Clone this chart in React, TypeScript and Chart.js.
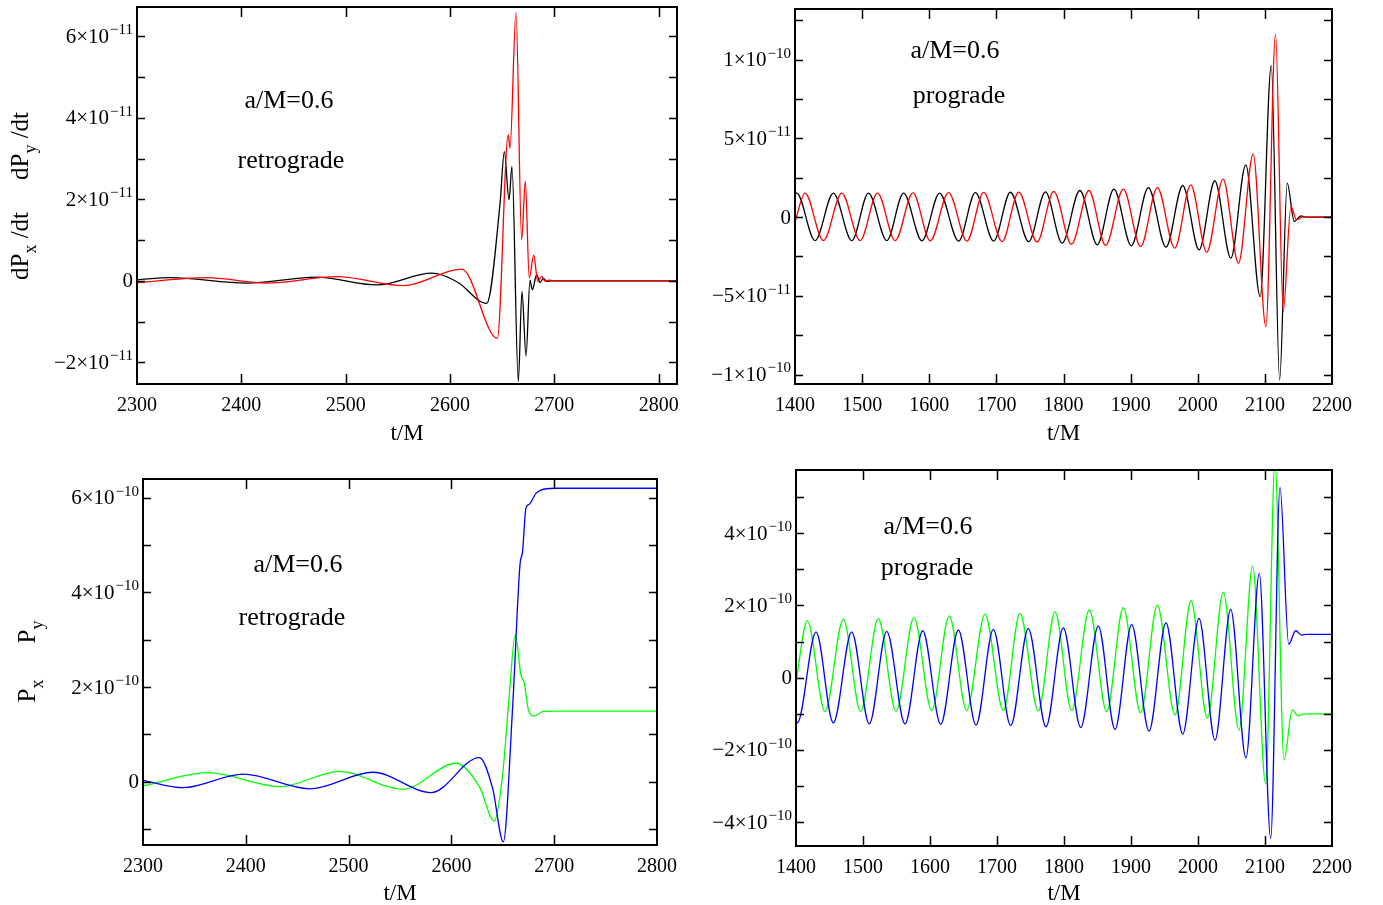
import { useEffect, useRef } from 'react';
import { Chart, registerables } from 'chart.js';

Chart.register(...registerables);

const FONT = '"Liberation Serif", "Times New Roman", serif';

type Pt = [number, number];

// ---------- Panel A: retrograde dP/dt (values in units of 1e-11) ----------
const A_X_TICKS = [2300, 2400, 2500, 2600, 2700, 2800];
const A_Y_TICKS = [-2, 0, 2, 4, 6];
const A_Y_LABELS = ['−2×10^−11', '0', '2×10^−11', '4×10^−11', '6×10^−11'];
const A_Y_MINOR = [-2, -1, 0, 1, 2, 3, 4, 5, 6];
const A_RED: Pt[] = [
  [2300, -0.04], [2367, 0.08], [2424.5, -0.057], [2491.7, 0.106], [2555.6, -0.115],
  [2611.2, 0.29], [2645.4, -1.41], [2655.9, 3.58], [2657.5, 3.26], [2663.3, 6.58],
  [2668.7, 1.01], [2672.2, 2.44], [2676, 0.07], [2680.3, 0.64], [2684.1, -0.02],
  [2687.9, 0.11], [2691.1, -0.01], [2695, 0.02], [2700, 0], [2817, 0],
];
const A_BLACK: Pt[] = [
  [2300, 0.03], [2331.8, 0.08], [2405.4, -0.057], [2472.5, 0.09], [2530, -0.098],
  [2582.7, 0.19], [2606.7, -0.02], [2635.2, -0.55], [2648, 1.9], [2652.1, 3.17],
  [2656.6, 1.99], [2659.4, 2.8], [2665.5, -2.47], [2669, -0.26], [2672.9, -1.84],
  [2676.7, 0.02], [2678.9, -0.22], [2683.1, 0.15], [2686.3, -0.04], [2689.5, 0.06],
  [2693, -0.01], [2698, 0], [2817, 0],
];

// ---------- Panel B: prograde dP/dt (values in units of 1e-10) ----------
const B_X_TICKS = [1400, 1500, 1600, 1700, 1800, 1900, 2000, 2100, 2200];
const B_Y_TICKS = [-1, -0.5, 0, 0.5, 1];
const B_Y_LABELS = ['−1×10^−10', '−5×10^−11', '0', '5×10^−11', '1×10^−10'];
const B_Y_MINOR = [-1, -0.75, -0.5, -0.25, 0, 0.25, 0.5, 0.75, 1, 1.25];
const B_RED: Pt[] = [
  [1400, -0.03], [1414.9, 0.153], [1442.3, -0.149], [1469.7, 0.153], [1497, -0.149],
  [1522.9, 0.153], [1549.3, -0.149], [1575.6, 0.154], [1601.5, -0.15], [1628.8, 0.155],
  [1656.2, -0.152], [1681.1, 0.157], [1708.5, -0.155], [1733.3, 0.159], [1760.7, -0.158],
  [1785.5, 0.163], [1811.9, -0.172], [1837.8, 0.169], [1862.7, -0.18], [1889.1, 0.178],
  [1914.9, -0.187], [1939.8, 0.188], [1965.7, -0.197], [1989.6, 0.205], [2013.4, -0.223],
  [2037.8, 0.241], [2060.7, -0.293], [2082.6, 0.4], [2101.5, -0.696], [2115.9, 1.163],
  [2127.3, -0.596], [2138.8, 0.067], [2147.3, -0.017], [2156, 0], [2200, 0],
];
const B_BLACK: Pt[] = [
  [1400, 0.15], [1402.5, 0.153], [1429.9, -0.149], [1457.2, 0.153], [1484.6, -0.149],
  [1509.5, 0.153], [1536.8, -0.149], [1561.7, 0.153], [1589.1, -0.15], [1615.4, 0.153],
  [1643.8, -0.152], [1668.7, 0.156], [1696, -0.152], [1720.9, 0.158], [1748.2, -0.156],
  [1773.1, 0.16], [1798, -0.165], [1824.4, 0.169], [1850.3, -0.176], [1875.1, 0.178],
  [1901, -0.182], [1926.4, 0.188], [1952.7, -0.191], [1977.6, 0.201], [2002, -0.208],
  [2025.4, 0.231], [2049.3, -0.261], [2071.6, 0.332], [2093, -0.505], [2109.5, 0.962],
  [2122, -1.034], [2133.3, 0.216], [2143.8, -0.028], [2153.7, 0.008], [2162, 0], [2200, 0],
];

// ---------- Panel C: retrograde P (values in units of 1e-10) ----------
const C_X_TICKS = [2300, 2400, 2500, 2600, 2700, 2800];
const C_Y_TICKS = [0, 2, 4, 6];
const C_Y_LABELS = ['0', '2×10^−10', '4×10^−10', '6×10^−10'];
const C_Y_MINOR = [-1, 0, 1, 2, 3, 4, 5, 6];
const C_BLUE: Pt[] = [
  [2300, 0.03], [2339.1, -0.127], [2397.4, 0.16], [2462.1, -0.15], [2523.6, 0.2],
  [2580.3, -0.23], [2627.2, 0.51], [2640.1, -0.14], [2650.5, -1.27], [2659.5, 1.55],
  [2666.7, 4.58], [2669.2, 4.86], [2672.5, 5.78], [2675.7, 5.86], [2682.2, 6.09],
  [2687.1, 6.16], [2700, 6.2], [2800, 6.2],
];
const C_GREEN: Pt[] = [
  [2300, -0.09], [2363.4, 0.19], [2433, -0.105], [2491.3, 0.22], [2552.7, -0.16],
  [2604.6, 0.39], [2627.2, -0.105], [2641.7, -0.83], [2649.8, 0.14], [2656.3, 1.83],
  [2662.1, 3.1], [2667.7, 2.25], [2670.9, 2.08], [2675, 1.51], [2680.6, 1.39],
  [2688.7, 1.48], [2700, 1.49], [2800, 1.49],
];

// ---------- Panel D: prograde P (values in units of 1e-10) ----------
const D_X_TICKS = [1400, 1500, 1600, 1700, 1800, 1900, 2000, 2100, 2200];
const D_Y_TICKS = [-4, -2, 0, 2, 4];
const D_Y_LABELS = ['−4×10^−10', '−2×10^−10', '0', '2×10^−10', '4×10^−10'];
const D_Y_MINOR = [-4, -3, -2, -1, 0, 1, 2, 3, 4, 5];
const D_BLUE: Pt[] = [
  [1400, -1.2], [1402, -1.25], [1429.9, 1.27], [1455.7, -1.25], [1483.1, 1.27],
  [1509.4, -1.28], [1535.4, 1.28], [1562.7, -1.28], [1589.1, 1.3], [1616, -1.29],
  [1642.3, 1.32], [1668.7, -1.31], [1694.5, 1.34], [1720.4, -1.33], [1746.7, 1.36],
  [1773.1, -1.36], [1799, 1.38], [1824.9, -1.38], [1851.2, 1.43], [1876.1, -1.43],
  [1901, 1.47], [1926.9, -1.48], [1952.2, 1.52], [1977.2, -1.56], [2001.5, 1.64],
  [2025.4, -1.73], [2048.8, 1.89], [2071.6, -2.22], [2091.5, 2.89], [2108.5, -4.45],
  [2122.4, 5.27], [2135.4, 0.93], [2145.8, 1.3], [2154.8, 1.18], [2162, 1.2], [2200, 1.2],
];
const D_GREEN: Pt[] = [
  [1400, -0.11], [1416.9, 1.58], [1443.3, -0.94], [1470.6, 1.62], [1496.5, -0.94],
  [1522.9, 1.64], [1549.3, -0.93], [1576.1, 1.67], [1602.5, -0.91], [1628.8, 1.71],
  [1654.7, -0.91], [1682.1, 1.76], [1709.4, -0.91], [1734.3, 1.78], [1761.6, -0.92],
  [1786.6, 1.82], [1811.5, -0.91], [1837.8, 1.875], [1863.7, -0.94], [1888.5, 1.94],
  [1914.4, -0.97], [1939.3, 2.01], [1965.7, -1.03], [1989.6, 2.13], [2013.9, -1.12],
  [2037.8, 2.36], [2061.2, -1.45], [2081.6, 3.09], [2101, -2.94], [2114.9, 5.95],
  [2128.4, -2.28], [2140.8, -0.89], [2149.7, -1.06], [2157.2, -1.01], [2165, -1.0], [2200, -1.0],
];

type SubPart = [string, boolean];
interface Note { text: string; dx: number; dy: number }
interface YTitle { parts: SubPart[]; x: number; y: number }
interface PanelCfg {
  left: number; top: number; width: number; height: number;
  yAxisW: number; padTop: number; padRight: number; xAxisH: number; titlePad: number;
  xMin: number; xMax: number; yMin: number; yMax: number;
  xTicks: number[]; yTicks: number[]; yLabels: string[]; yMinor: number[];
  series: { pts: Pt[]; color: string }[];
  notes: Note[];
  yTitles: YTitle[];
}

const PANELS: PanelCfg[] = [
  {
    left: 0, top: 0, width: 690, height: 450,
    yAxisW: 137, padTop: 7, padRight: 13, xAxisH: 66, titlePad: 2,
    xMin: 2300, xMax: 2817.6, yMin: -2.53, yMax: 6.72,
    xTicks: A_X_TICKS, yTicks: A_Y_TICKS, yLabels: A_Y_LABELS, yMinor: A_Y_MINOR,
    series: [{ pts: A_RED, color: '#ff0000' }, { pts: A_BLACK, color: '#000000' }],
    notes: [{ text: 'a/M=0.6', dx: 152, dy: 94 }, { text: 'retrograde', dx: 154, dy: 154 }],
    yTitles: [
      { parts: [['dP', false], ['y', true], [' /dt', false]], x: 28, y: 146 },
      { parts: [['dP', false], ['x', true], [' /dt', false]], x: 28, y: 246 },
    ],
  },
  {
    left: 695, top: 0, width: 688, height: 450,
    yAxisW: 100, padTop: 9, padRight: 51, xAxisH: 66, titlePad: 2,
    xMin: 1400, xMax: 2200, yMin: -1.06, yMax: 1.322,
    xTicks: B_X_TICKS, yTicks: B_Y_TICKS, yLabels: B_Y_LABELS, yMinor: B_Y_MINOR,
    series: [{ pts: B_RED, color: '#ff0000' }, { pts: B_BLACK, color: '#000000' }],
    notes: [{ text: 'a/M=0.6', dx: 160, dy: 42 }, { text: 'prograde', dx: 164, dy: 87 }],
    yTitles: [],
  },
  {
    left: 0, top: 455, width: 690, height: 450,
    yAxisW: 143, padTop: 24, padRight: 33, xAxisH: 60, titlePad: -3,
    xMin: 2300, xMax: 2800, yMin: -1.337, yMax: 6.395,
    xTicks: C_X_TICKS, yTicks: C_Y_TICKS, yLabels: C_Y_LABELS, yMinor: C_Y_MINOR,
    series: [{ pts: C_BLUE, color: '#0000ff' }, { pts: C_GREEN, color: '#00ff00' }],
    notes: [{ text: 'a/M=0.6', dx: 155, dy: 86 }, { text: 'retrograde', dx: 149, dy: 139 }],
    yTitles: [
      { parts: [['P', false], ['y', true]], x: 35, y: 177 },
      { parts: [['P', false], ['x', true]], x: 35, y: 236 },
    ],
  },
  {
    left: 695, top: 455, width: 688, height: 450,
    yAxisW: 101, padTop: 15, padRight: 51, xAxisH: 59, titlePad: -3,
    xMin: 1400, xMax: 2200, yMin: -4.66, yMax: 5.75,
    xTicks: D_X_TICKS, yTicks: D_Y_TICKS, yLabels: D_Y_LABELS, yMinor: D_Y_MINOR,
    series: [{ pts: D_BLUE, color: '#0000ff' }, { pts: D_GREEN, color: '#00ff00' }],
    notes: [{ text: 'a/M=0.6', dx: 132, dy: 57 }, { text: 'prograde', dx: 131, dy: 98 }],
    yTitles: [],
  },
];

function drawSubText(ctx: CanvasRenderingContext2D, parts: SubPart[], baseX: number, centerY: number, size: number) {
  const subSize = Math.round(size * 0.72);
  const widths = parts.map(([t, sub]) => {
    ctx.font = `${sub ? subSize : size}px ${FONT}`;
    return ctx.measureText(t).width;
  });
  const total = widths.reduce((a, b) => a + b, 0);
  ctx.save();
  ctx.translate(baseX, centerY);
  ctx.rotate(-Math.PI / 2);
  ctx.fillStyle = '#000';
  ctx.textAlign = 'left';
  ctx.textBaseline = 'alphabetic';
  let u = -total / 2;
  parts.forEach(([t, sub], i) => {
    ctx.font = `${sub ? subSize : size}px ${FONT}`;
    ctx.fillText(t, u, sub ? size * 0.32 : 0);
    u += widths[i];
  });
  ctx.restore();
}

function Panel({ cfg }: { cfg: PanelCfg }) {
  const ref = useRef<HTMLCanvasElement | null>(null);
  useEffect(() => {
    const canvas = ref.current;
    if (!canvas) return;
    const framePlugin = {
      id: 'frame',
      afterDraw(chart: any) {
        const { ctx, chartArea: a, scales } = chart;
        ctx.save();
        ctx.strokeStyle = '#000';
        ctx.lineWidth = 1.5;
        ctx.beginPath();
        cfg.xTicks.forEach((v) => {
          const px = Math.round(scales.x.getPixelForValue(v)) + 0.5;
          if (px <= a.left + 1 || px >= a.right - 1) return;
          ctx.moveTo(px, a.bottom);
          ctx.lineTo(px, a.bottom - 10);
          ctx.moveTo(px, a.top);
          ctx.lineTo(px, a.top + 10);
        });
        cfg.yMinor.forEach((v) => {
          const py = Math.round(scales.y.getPixelForValue(v)) + 0.5;
          if (py <= a.top + 1 || py >= a.bottom - 1) return;
          ctx.moveTo(a.left, py);
          ctx.lineTo(a.left + 8, py);
          ctx.moveTo(a.right, py);
          ctx.lineTo(a.right - 8, py);
        });
        ctx.stroke();
        ctx.lineWidth = 2;
        ctx.strokeRect(a.left, a.top, a.right - a.left, a.bottom - a.top);
        ctx.fillStyle = '#000';

        // y tick labels with real superscripts
        ctx.textAlign = 'left';
        ctx.textBaseline = 'middle';
        cfg.yTicks.forEach((v, i) => {
          const py = scales.y.getPixelForValue(v) + 1;
          const [main, sup] = cfg.yLabels[i].split('^');
          ctx.font = `21px ${FONT}`;
          const wm = ctx.measureText(main).width;
          ctx.font = `15px ${FONT}`;
          const ws = sup ? ctx.measureText(sup).width + 1 : 0;
          const x0 = a.left - 4 - wm - ws;
          ctx.font = `21px ${FONT}`;
          ctx.fillText(main, x0, py);
          if (sup) {
            ctx.font = `15px ${FONT}`;
            ctx.fillText(sup, x0 + wm + 1, py - 7);
          }
        });

        ctx.textAlign = 'center';
        ctx.textBaseline = 'middle';
        ctx.font = `26px ${FONT}`;
        cfg.notes.forEach((n) => ctx.fillText(n.text, a.left + n.dx, a.top + n.dy));
        cfg.yTitles.forEach((t) => drawSubText(ctx, t.parts, t.x, t.y, 25));
        ctx.restore();
      },
    };
    const chart = new Chart(canvas, {
      type: 'line',
      data: {
        datasets: cfg.series.map((s) => ({
          data: s.pts.map(([x, y]) => ({ x, y })),
          borderColor: s.color,
          borderWidth: 1.3,
          pointRadius: 0,
          fill: false,
          cubicInterpolationMode: 'monotone' as const,
        })),
      },
      options: {
        animation: false,
        responsive: false,
        maintainAspectRatio: false,
        events: [],
        layout: { padding: { top: cfg.padTop, right: cfg.padRight, left: 0, bottom: 0 } },
        plugins: { legend: { display: false }, tooltip: { enabled: false } },
        scales: {
          x: {
            type: 'linear',
            min: cfg.xMin,
            max: cfg.xMax,
            afterBuildTicks: (scale: any) => {
              scale.ticks = cfg.xTicks.map((v) => ({ value: v }));
            },
            afterFit: (scale: any) => {
              scale.height = cfg.xAxisH;
              scale.paddingLeft = 0;
              scale.paddingRight = 0;
            },
            grid: { display: false, drawTicks: false },
            border: { display: false },
            ticks: {
              autoSkip: false,
              maxRotation: 0,
              padding: 10,
              color: '#000',
              font: { family: FONT, size: 20 },
              callback: (v: any) => String(v),
            },
            title: {
              display: true,
              text: 't/M',
              color: '#000',
              font: { family: FONT, size: 23 },
              padding: { top: 0, bottom: cfg.titlePad },
            },
          },
          y: {
            type: 'linear',
            min: cfg.yMin,
            max: cfg.yMax,
            afterBuildTicks: (scale: any) => {
              scale.ticks = cfg.yTicks.map((v) => ({ value: v }));
            },
            afterFit: (scale: any) => {
              scale.width = cfg.yAxisW;
              scale.paddingTop = 0;
              scale.paddingBottom = 0;
            },
            grid: { display: false, drawTicks: false },
            border: { display: false },
            ticks: { display: false },
          },
        },
      },
      plugins: [framePlugin],
    } as any);
    return () => chart.destroy();
  }, [cfg]);
  return (
    <canvas
      ref={ref}
      width={cfg.width}
      height={cfg.height}
      style={{ position: 'absolute', left: cfg.left, top: cfg.top, width: cfg.width, height: cfg.height }}
    />
  );
}

export default function App() {
  return (
    <div style={{ position: 'absolute', left: 0, top: 0, width: 1383, height: 905, background: '#fff' }}>
      {PANELS.map((p, i) => (
        <Panel key={i} cfg={p} />
      ))}
    </div>
  );
}
